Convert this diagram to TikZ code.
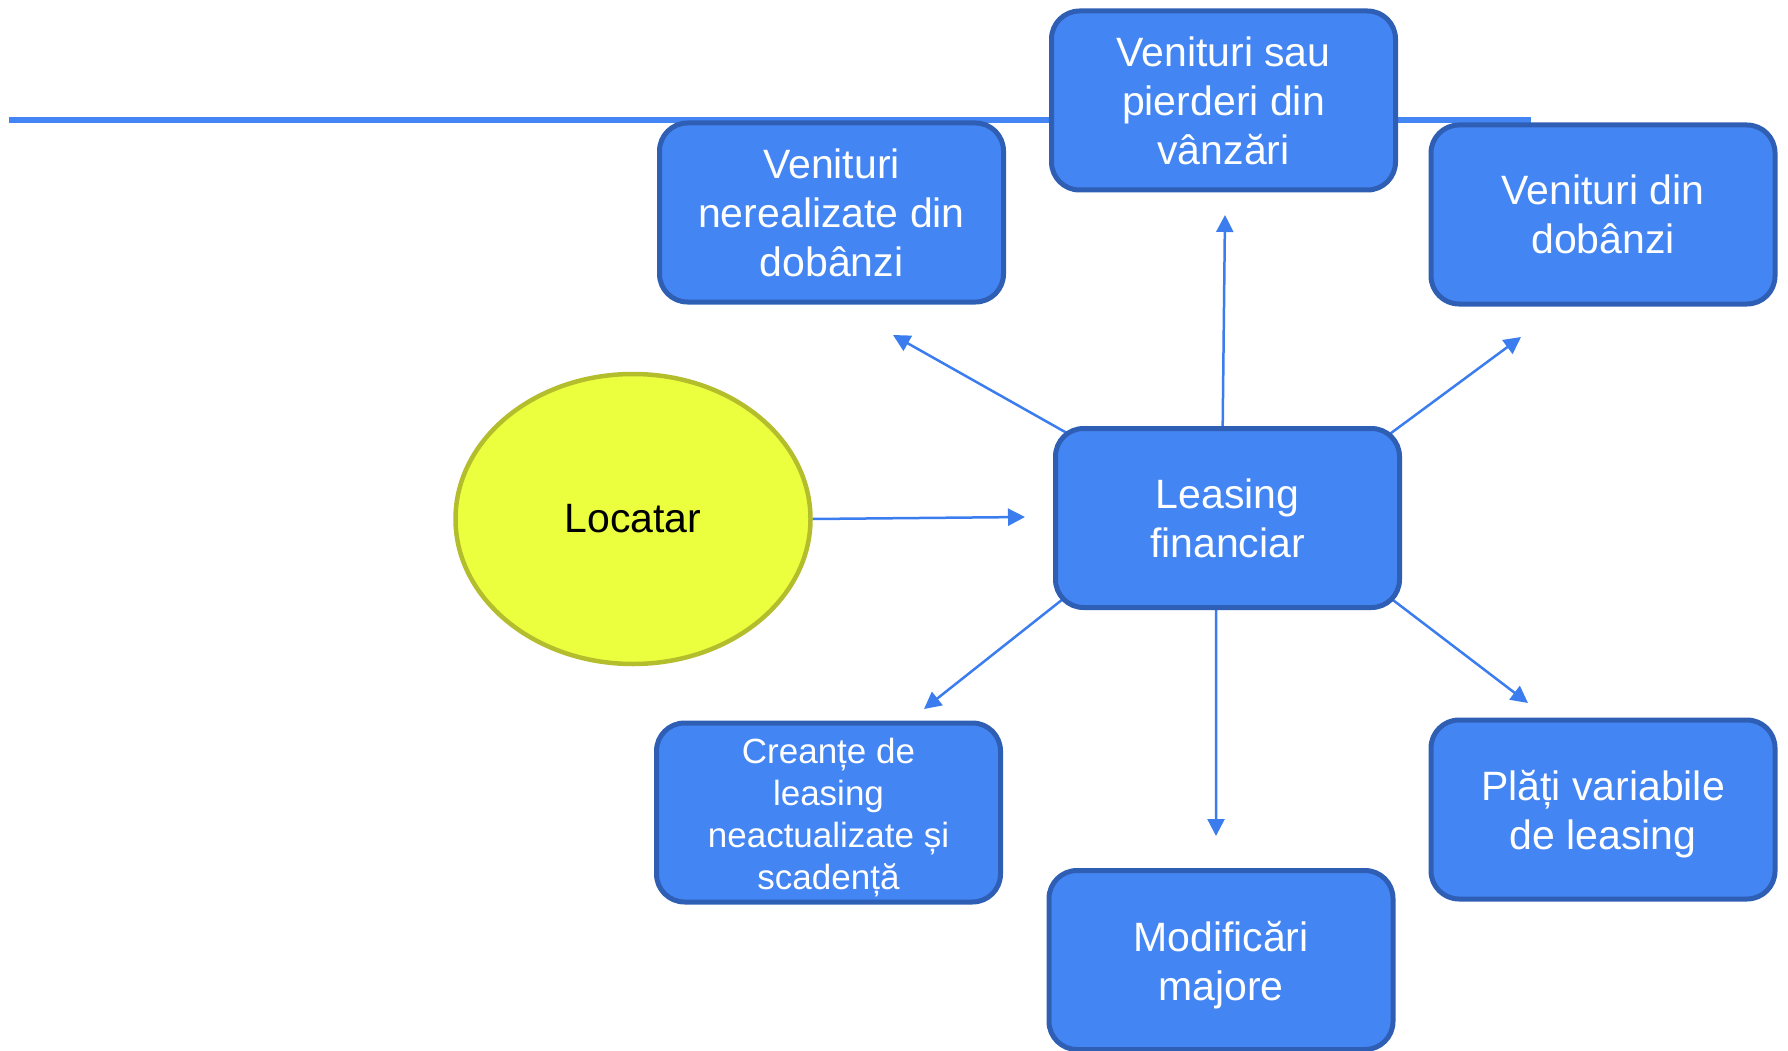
\documentclass[tikz,border=0pt]{standalone}
\usepackage{fontspec}
\setmainfont{Liberation Sans}
\usetikzlibrary{arrows.meta,shapes.geometric,backgrounds}
\definecolor{boxfill}{RGB}{68,133,244}
\definecolor{boxline}{RGB}{47,95,180}
\definecolor{ellfill}{RGB}{235,255,62}
\definecolor{ellline}{RGB}{180,190,45}
\definecolor{arrowc}{RGB}{59,125,238}
\newcommand{\lowtext}[1]{\raisebox{-6pt}[\height][\depth]{\begin{tabular}{@{}c@{}}#1\end{tabular}}}
\tikzset{
  bluebox/.style={draw=boxline, fill=boxfill, line width=5pt, rounded corners=28pt,
    minimum width=344pt, minimum height=179pt, inner sep=0pt, align=center,
    text=white, font=\fontsize{41}{49}\selectfont},
  smallbox/.style={bluebox, font=\fontsize{35}{42}\selectfont},
  ellnode/.style={ellipse, draw=ellline, fill=ellfill, line width=4.5pt,
    minimum width=355pt, minimum height=290pt, inner sep=0pt,
    font=\fontsize{41}{49}\selectfont},
  conn/.style={draw=arrowc, line width=2.5pt, shorten <=-20pt,
    -{Triangle[length=17pt,width=17pt]}},
  topline/.style={draw=boxfill, line width=6pt}
}
\begin{document}
\begin{tikzpicture}[x=1pt,y=-1pt]
\useasboundingbox (0,0) rectangle (1788,1051);
% decorative top line
\coordinate (la) at (9,120);
\coordinate (lb) at (1531,120);
\draw[topline] (la) -- (lb);
% nodes
\node[bluebox] (A) at (831.5,212.5) {Venituri\\nerealizate din\\dobânzi};
\node[bluebox] (B) at (1223.5,100.5) {Venituri sau\\pierderi din\\vânzări};
\node[bluebox] (C) at (1603,214.5) {Venituri din\\dobânzi};
\node[bluebox] (L) at (1227.5,518) {Leasing\\financiar};
\node[smallbox] (D) at (828.5,812.5) {\lowtext{Creanțe de\\leasing\\neactualizate și\\scadență}};
\node[bluebox] (E) at (1221,960) {\lowtext{Modificări\\majore}};
\node[bluebox] (F) at (1603,809.5) {\lowtext{Plăți variabile\\de leasing}};
\node[ellnode] (Lo) at (633,519) {Locatar};
% arrow end points
\coordinate (eB) at (1225,215);
\coordinate (eA) at (893,335);
\coordinate (eC) at (1521,337);
\coordinate (eD) at (924,709);
\coordinate (eE) at (1216,836);
\coordinate (eF) at (1528,703);
\coordinate (eL) at (1025,517);
% connectors
\begin{pgfonlayer}{background}
\draw[conn] (L.93.4) -- (eB);
\draw[conn] (L.152.7) -- (eA);
\draw[conn] (L.28.3) -- (eC);
\draw[conn] (L.207.6) -- (eD);
\draw[conn] (L.263) -- (eE);
\draw[conn] (L.333.8) -- (eF);
\draw[conn] (Lo.east) -- (eL);
\end{pgfonlayer}
\end{tikzpicture}
\end{document}
